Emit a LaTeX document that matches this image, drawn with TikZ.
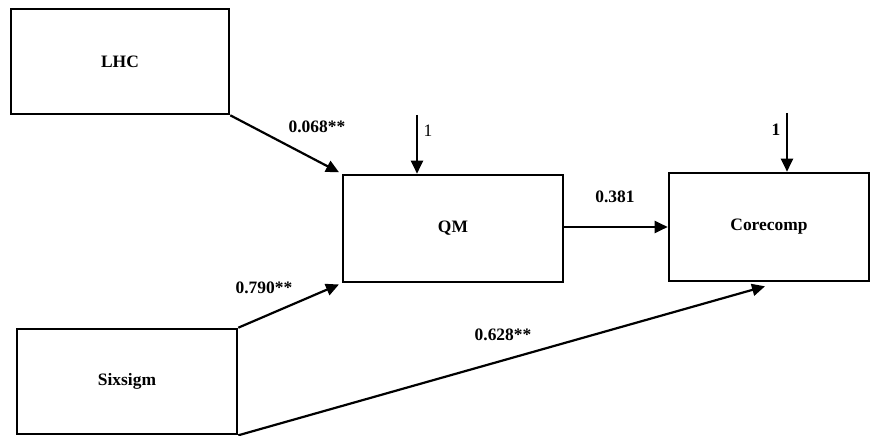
\documentclass[tikz,border=0pt]{standalone}
\usepackage{fontspec}
\setmainfont{Liberation Serif}
\usetikzlibrary{positioning, arrows.meta}

\begin{document}
\begin{tikzpicture}[x=1bp, y=-1bp,
      box/.style={draw, line width=2.6bp, font=\fontsize{17.5}{20}\selectfont\bfseries},
      coef/.style={font=\fontsize{17.5}{20}\selectfont\bfseries},
      arr/.style={-{Triangle[length=13bp, width=12bp]}, line width=2.2bp},
    ]
    \useasboundingbox (0,0) rectangle (879,436);

    % Boxes
    \node[box, minimum width=218bp, minimum height=105bp] (lhc) at (120,61.5) {LHC};
    \node[box, minimum width=220bp, minimum height=107bp] (qm) at (453,228.5) {QM};
    \node[box, minimum width=200bp, minimum height=108bp] (core) at (769,227) {Corecomp};
    \node[box, minimum width=220bp, minimum height=105bp] (six) at (127,381.5) {Sixsigm};

    % Error terms
    \coordinate (e1) at (417,115);
    \coordinate (e2) at (787,113);
    \draw[arr] (e1) -- (e1 |- qm.north);
    \draw[arr] (e2) -- (e2 |- core.north);
    \node[font=\fontsize{17.5}{20}\selectfont] (l1) at (428,131) {1};
    \node[coef] (l2) at (776,130) {1};

    % Paths
    \draw[arr, shorten >=3bp] (lhc.south east) -- (qm.north west);
    \draw[arr, shorten >=3bp] (six.north east) -- (qm.south west);
    \draw[arr] (qm.east |- 0,227) -- (core.west |- 0,227);
    \draw[arr] (six.south east) -- ([shift={(-4,4)}]core.south);

    % Coefficients
    \node[coef] (c1) at (317,127) {0.068**};
    \node[coef] (c2) at (264,288) {0.790**};
    \node[coef] (c3) at (503,335) {0.628**};
    \node[coef] (c4) at (615,197) {0.381};
  \end{tikzpicture}
\end{document}
